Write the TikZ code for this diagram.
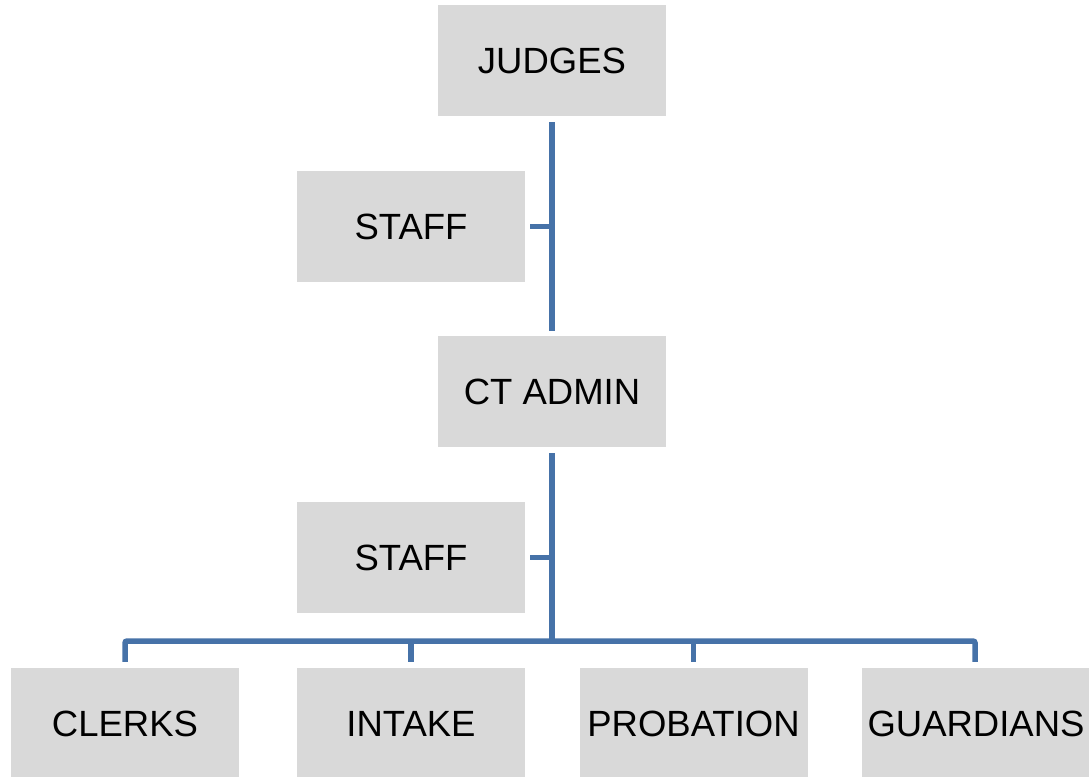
\documentclass[tikz,border=0pt]{standalone}
\usepackage{fontspec}
\setmainfont{Liberation Sans}
\definecolor{boxgray}{HTML}{D9D9D9}
\definecolor{linkblue}{HTML}{4672A8}
\begin{document}
\begin{tikzpicture}[x=1pt,y=1pt,
  orgbox/.style={fill=boxgray,draw=none,minimum width=228pt,minimum height=111pt,inner sep=0pt,
    font=\fontsize{36.5}{40}\selectfont,text=black},
  conn/.style={draw=linkblue,line width=5.5pt,rounded corners=2pt}]
\useasboundingbox (0,0) rectangle (1089,-776);
\node[orgbox] (judges)  at (552,-60.5)  {JUDGES};
\node[orgbox] (staffa)  at (411,-226.5) {STAFF};
\node[orgbox] (ctadmin) at (552,-391.5) {CT ADMIN};
\node[orgbox] (staffb)  at (411,-557.5) {STAFF};
\node[orgbox] (clerks)  at (125,-723.5) {CLERKS};
\node[orgbox] (intake)  at (411,-723.5) {INTAKE};
\node[orgbox] (probation) at (693.5,-723.5) {PROBATION};
\node[orgbox] (guardians) at (976,-723.5) {GUARDIANS};
\coordinate (bus) at (552,-641);
% upper trunk
\draw[conn,shorten <=6pt,shorten >=5pt] (judges.south) -- (ctadmin.north);
\draw[conn,shorten <=5pt] (staffa.east) -- (staffa.east -| judges.south);
% lower trunk
\draw[conn,shorten <=6pt] (ctadmin.south) -- (bus);
\draw[conn,shorten <=5pt] (staffb.east) -- (staffb.east -| ctadmin.south);
% bus and drops
\draw[conn,shorten >=6pt] (bus) -| (clerks.north);
\draw[conn,shorten >=6pt] (bus) -| (guardians.north -| 975,0);
\draw[conn,shorten >=6pt] (bus -| intake.north) -- (intake.north);
\draw[conn,shorten >=6pt] (bus -| probation.north) -- (probation.north);
\end{tikzpicture}
\end{document}
